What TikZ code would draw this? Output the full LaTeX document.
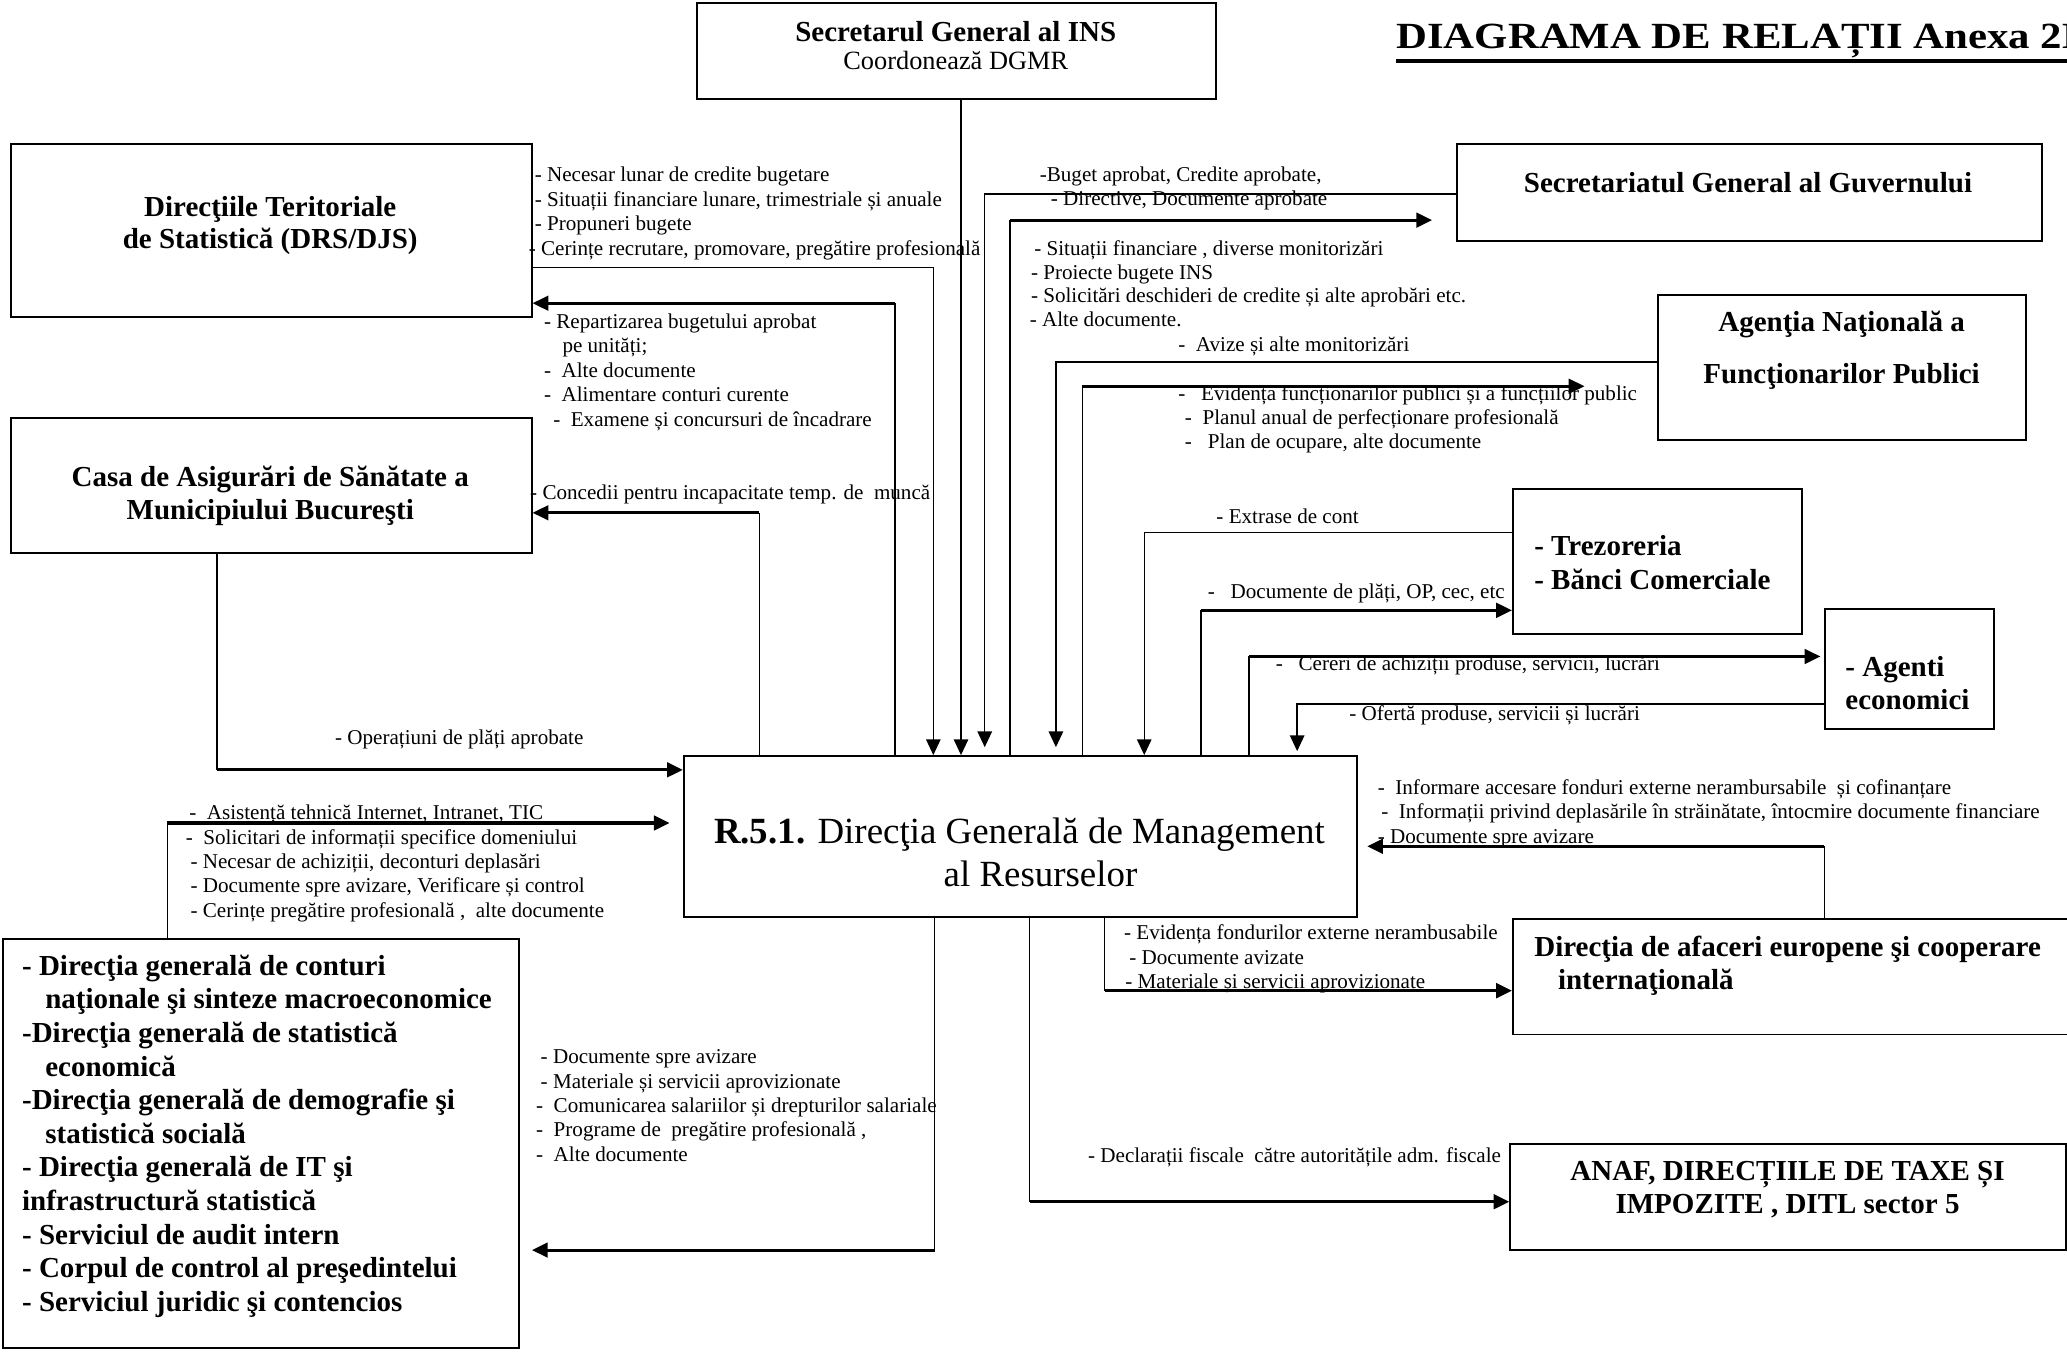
\documentclass[tikz,border=0pt]{standalone}
\usepackage{fontspec}
\setmainfont{Liberation Serif}
\newfontfamily\titlefont[FakeStretch=1.16]{Liberation Serif}
\usetikzlibrary{arrows.meta}
\begin{document}
\begin{tikzpicture}[x=1pt,y=-1pt,
  box/.style={draw, line width=1.5pt, inner sep=0pt, anchor=north west},
  lbl/.style={font=\fontsize{16}{18.5}\selectfont, inner sep=0pt, align=left},
  ttl/.style={font=\fontsize{22}{24}\selectfont\bfseries, inner sep=0pt},
  thinl/.style={line width=1.1pt},
  thickl/.style={line width=2.4pt},
  arr/.style={-{Triangle[length=12pt,width=11pt]}},
]
\useasboundingbox (0,0) rectangle (1568,1025);

% ---------- boxes ----------
\node[box, minimum width=394pt, minimum height=73.3pt] (sg) at (528,1.3) {};
\node[box, minimum width=395pt, minimum height=131pt] (drs) at (7.5,108.7) {};
\node[box, minimum width=395pt, minimum height=102pt] (casa) at (7.5,316.6) {};
\node[box, minimum width=391.5pt, minimum height=310pt] (dg) at (1.5,711.7) {};
\node[box, minimum width=510.6pt, minimum height=121.8pt] (cen) at (518,572.8) {};
\node[box, minimum width=443.6pt, minimum height=73pt] (sgg) at (1104.4,108.7) {};
\node[box, minimum width=279.4pt, minimum height=110pt] (anfp) at (1256.6,223.3) {};
\node[box, minimum width=219pt, minimum height=110pt] (trez) at (1147,370) {};
\node[box, minimum width=128pt, minimum height=91pt] (agen) at (1384,461) {};
\node[box, minimum width=440pt, minimum height=87.4pt] (dafe) at (1147,696.6) {};
\node[box, minimum width=421.6pt, minimum height=80.6pt] (anaf) at (1145,867) {};

% ---------- box texts ----------
\node[ttl, anchor=base] (sgt) at (725,31.6) {Secretarul General al INS};
\node[font=\fontsize{20}{22}\selectfont, inner sep=0pt, anchor=base] (sgc) at (725,53) {Coordonează DGMR};
\node[font=\titlefont\fontsize{28}{30}\selectfont\bfseries, inner sep=0pt, anchor=base west] (title) at (1059,36.7) {DIAGRAMA DE RELAȚII Anexa 2B};
\draw[line width=3pt] ([yshift=-9.6pt]title.base west) -- ([yshift=-9.6pt]title.base east);

\node[ttl, align=center, anchor=north] (drst) at (205,147.6) {\strut Direcţiile Teritoriale\\de Statistică (DRS/DJS)};
\node[ttl, font=\fontsize{22}{25}\selectfont\bfseries, align=center, anchor=north] (casat) at (205,351.2) {\strut Casa de Asigurări de Sănătate a\\Municipiului Bucureşti};
\node[ttl, anchor=base] (sggt) at (1326,146.2) {Secretariatul General al Guvernului};
\node[ttl, font=\fontsize{22}{39}\selectfont\bfseries, align=center, anchor=north] (anfpt) at (1397,224.3) {\strut Agenţia Naţională a\\Funcţionarilor Publici};
\node[ttl, font=\fontsize{22}{26}\selectfont\bfseries, align=left, anchor=north west] (trezt) at (1163.7,403) {\strut - Trezoreria\\- Bănci Comerciale};
\node[ttl, font=\fontsize{22}{25.3}\selectfont\bfseries, align=left, anchor=north west] (agent) at (1399.7,495.3) {\strut - Agenti\\economici};
\node[ttl, font=\fontsize{22}{25}\selectfont\bfseries, align=left, anchor=north west] (dafet) at (1163.7,708) {\strut Direcţia de afaceri europene şi cooperare\\\hspace*{18pt}internaţională};
\node[ttl, font=\fontsize{22}{25.2}\selectfont\bfseries, align=center, anchor=north] (anaft) at (1356,877.6) {\strut ANAF, DIRECȚIILE DE TAXE ȘI\\IMPOZITE , DITL sector 5};
\node[font=\fontsize{28}{32.2}\selectfont, inner sep=0pt, align=center, anchor=north] (cent) at (773.3,617.3) {\strut\textbf{R.5.1.} Direcţia Generală de Management\\\hspace*{32pt}al Resurselor};
\node[ttl, font=\fontsize{22}{25.5}\selectfont\bfseries, align=left, anchor=north west] (dgt) at (16.6,721.75) {\strut - Direcţia generală de conturi\\\hspace*{17.6pt}naţionale şi sinteze macroeconomice\\-Direcţia generală de statistică\\\hspace*{17.6pt}economică\\-Direcţia generală de demografie şi\\\hspace*{17.6pt}statistică socială\\- Direcţia generală de IT şi\\infrastructură statistică\\- Serviciul de audit intern\\- Corpul de control al preşedintelui\\- Serviciul juridic şi contencios};

% ---------- connector labels ----------
\node[lbl, anchor=north west] (l1) at (401,124.85) {\strut\hspace*{4.5pt}- Necesar lunar de credite bugetare\\\hspace*{4.5pt}- Situații financiare lunare, trimestriale și anuale\\\hspace*{4.5pt}- Propuneri bugete\\- Cerințe recrutare, promovare, pregătire profesională};
\node[lbl, anchor=north west] (l2) at (412.5,236.05) {\strut- Repartizarea bugetului aprobat\\\hspace*{14pt}pe unități;\\-\hspace*{8pt}Alte documente\\-\hspace*{8pt}Alimentare conturi curente\\\hspace*{7pt}-\hspace*{8pt}Examene și concursuri de încadrare};
\node[lbl, anchor=base west] (l3) at (402,379) {- Concedii pentru incapacitate temp. de\ \ muncă};
\node[lbl, anchor=base west] (l4) at (254,564.6) {- Operațiuni de plăți aprobate};
\node[lbl, anchor=north west] (l5) at (140.8,608.65) {\strut\hspace*{2.6pt}-\hspace*{8pt}Asistență tehnică Internet, Intranet, TIC\\-\hspace*{8pt}Solicitari de informații specifice domeniului\\\hspace*{3.6pt}- Necesar de achiziții, deconturi deplasări\\\hspace*{3.6pt}- Documente spre avizare, Verificare și control\\\hspace*{3.6pt}- Cerințe pregătire profesională ,\ \ alte documente};
\node[lbl, font=\fontsize{16}{17.7}\selectfont, anchor=north west] (l6) at (788.6,125.4) {\strut-Buget aprobat, Credite aprobate,\\\hspace*{8.4pt}- Directive, Documente aprobate};
\node[lbl, font=\fontsize{16}{18.1}\selectfont, anchor=north west] (l7) at (781,180.7) {\strut\hspace*{3.4pt}- Situații financiare , diverse monitorizări\\\hspace*{0.9pt}- Proiecte bugete INS\\\hspace*{0.9pt}- Solicitări deschideri de credite și alte aprobări etc.\\- Alte documente.};
\node[lbl, anchor=base west] (l8) at (893.7,266.8) {-\hspace*{8pt}Avize și alte monitorizări};
\node[lbl, font=\fontsize{16}{18.3}\selectfont, anchor=north west] (l9) at (893.7,290.6) {\strut-\hspace*{12pt}Evidența funcționarilor publici și a funcțiilor public\\\hspace*{5pt}-\hspace*{8pt}Planul anual de perfecționare profesională\\\hspace*{5pt}-\hspace*{12pt}Plan de ocupare, alte documente};
\node[lbl, anchor=base west] (l10) at (922.6,397.3) {- Extrase de cont};
\node[lbl, anchor=base west] (l11) at (916,454) {-\hspace*{12pt}Documente de plăți, OP, cec, etc};
\node[lbl, anchor=base west] (l12) at (967.6,509) {-\hspace*{12pt}Cereri de achiziții produse, servicii, lucrări};
\node[lbl, anchor=base west] (l13) at (1023.4,546.4) {- Ofertă produse, servicii și lucrări};
\node[lbl, anchor=north west] (l14) at (1045,589.35) {\strut-\hspace*{8pt}Informare accesare fonduri externe nerambursabile\ \ și cofinanțare\\\hspace*{2.7pt}-\hspace*{8pt}Informații privind deplasările în străinătate, întocmire documente financiare\\- Documente spre avizare};
\node[lbl, anchor=north west] (l15) at (852.5,699.75) {\strut- Evidența fondurilor externe nerambusabile\\\hspace*{4pt}- Documente avizate\\\hspace*{1pt}- Materiale și servicii aprovizionate};
\node[lbl, anchor=north west] (l16) at (406.5,793.75) {\strut\hspace*{3.5pt}- Documente spre avizare\\\hspace*{3.5pt}- Materiale și servicii aprovizionate\\-\hspace*{8pt}Comunicarea salariilor și drepturilor salariale\\-\hspace*{8pt}Programe de\ \ pregătire profesională ,\\-\hspace*{8pt}Alte documente};
\node[lbl, anchor=base east] (l17) at (1138.8,881.8) {- Declarații fiscale\ \ către autoritățile adm. fiscale};

% ---------- guides (x positions and y positions of the routed connectors) ----------
\coordinate (xa) at (127,0);   \coordinate (xb) at (164.5,0); \coordinate (xc) at (576,0);
\coordinate (xd) at (679,0);   \coordinate (xe) at (708,0);   \coordinate (xf) at (729,0);
\coordinate (xg) at (747,0);   \coordinate (xh) at (766,0);   \coordinate (xi) at (801,0);
\coordinate (xj) at (821,0);   \coordinate (xk) at (868,0);   \coordinate (xl) at (911,0);
\coordinate (xm) at (947.6,0); \coordinate (xn) at (984,0);   \coordinate (xo) at (1384,0);
\coordinate (xp) at (709,0);   \coordinate (xq) at (781,0);   \coordinate (xr) at (838,0);
\coordinate (ya) at (0,147);   \coordinate (yb) at (0,167);   \coordinate (yc) at (0,203);
\coordinate (yd) at (0,230);   \coordinate (ye) at (0,274.5); \coordinate (yf) at (0,293);
\coordinate (yg) at (0,389);   \coordinate (yh) at (0,404);   \coordinate (yi) at (0,463);
\coordinate (yj) at (0,498);   \coordinate (yk) at (0,534);   \coordinate (yl) at (0,584);
\coordinate (ym) at (0,624.3); \coordinate (yn) at (0,642);   \coordinate (yo) at (0,751.5);
\coordinate (yp) at (0,911.6); \coordinate (yq) at (0,948.3);

% ---------- connectors ----------
% Secretarul General -> DGMR
\draw[thinl, arr] (xf |- sg.south) -- (xf |- cen.north);
% DRS -> DGMR
\draw[thinl, arr] (drs.east |- yc) -| (xe |- cen.north);
% DGMR -> DRS
\draw[thinl] (xd |- cen.north) -- (xd |- yd);
\draw[thickl, arr] (xd |- yd) -- (drs.east |- yd);
% DGMR -> Casa
\draw[thinl] (xc |- cen.north) -- (xc |- yg);
\draw[thickl, arr] (xc |- yg) -- (casa.east |- yg);
% Casa -> DGMR
\draw[thinl] (xb |- casa.south) -- (xb |- yl);
\draw[thickl, arr] (xb |- yl) -- (cen.west |- yl);
% Directii -> DGMR
\draw[thinl] (xa |- dg.north) -- (xa |- ym);
\draw[thickl, arr] (xa |- ym) -- ([xshift=-10pt]cen.west |- ym);
% DGMR -> Directii
\draw[thinl] (xp |- cen.south) -- (xp |- yq);
\draw[thickl, arr] (xp |- yq) -- ([xshift=9pt]dg.east |- yq);
% SGG -> DGMR
\draw[thinl, arr] (sgg.west |- ya) -| ([yshift=6pt]xg |- cen.north);
% DGMR -> SGG
\draw[thinl] (xh |- cen.north) -- (xh |- yb);
\draw[thickl, arr] (xh |- yb) -- ([xshift=-18pt]sgg.west |- yb);
% ANFP -> DGMR
\draw[thinl, arr] (anfp.west |- ye) -| ([yshift=6pt]xi |- cen.north);
% DGMR -> ANFP
\draw[thinl] (xj |- cen.north) -- (xj |- yf);
\draw[thickl, arr] (xj |- yf) -- ([xshift=-54.6pt]anfp.west |- yf);
% Trezoreria -> DGMR
\draw[thinl, arr] (trez.west |- yh) -| (xk |- cen.north);
% DGMR -> Trezoreria
\draw[thinl] (xl |- cen.north) -- (xl |- yi);
\draw[thickl, arr] (xl |- yi) -- (trez.west |- yi);
% DGMR -> Agenti
\draw[thinl] (xm |- cen.north) -- (xm |- yj);
\draw[thickl, arr] (xm |- yj) -- ([xshift=-3pt]agen.west |- yj);
% Agenti -> DGMR
\draw[thinl, arr] (agen.west |- yk) -| ([yshift=3pt]xn |- cen.north);
% DAFE -> DGMR
\draw[thinl] (xo |- dafe.north) -- (xo |- yn);
\draw[thickl, arr] (xo |- yn) -- ([xshift=7pt]cen.east |- yn);
% DGMR -> DAFE
\draw[thinl] (xr |- cen.south) -- (xr |- yo);
\draw[thickl, arr] (xr |- yo) -- (dafe.west |- yo);
% DGMR -> ANAF
\draw[thinl] (xq |- cen.south) -- (xq |- yp);
\draw[thickl, arr] (xq |- yp) -- (anaf.west |- yp);
\end{tikzpicture}
\end{document}
